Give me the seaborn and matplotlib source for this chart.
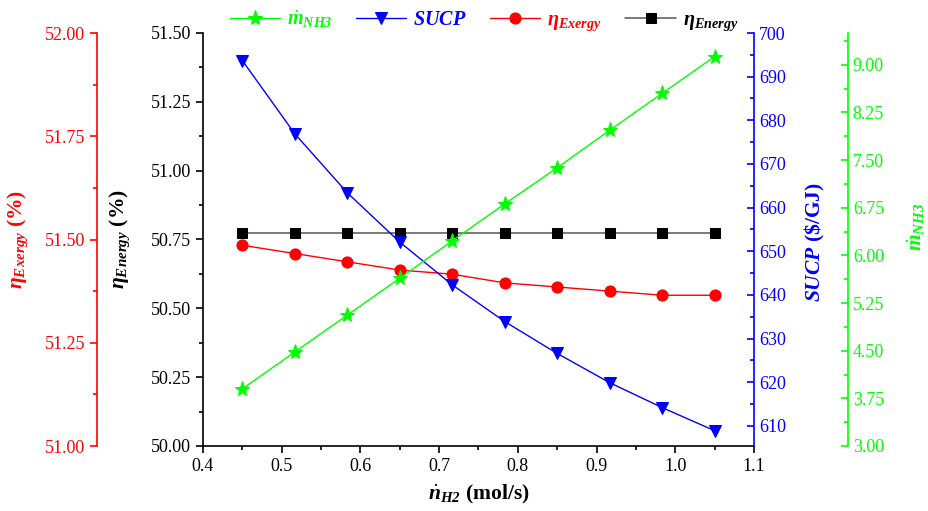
import numpy as np
import pandas as pd
import matplotlib
matplotlib.use("Agg")
import matplotlib.pyplot as plt
import seaborn as sns
from matplotlib.ticker import MultipleLocator, FormatStrFormatter

# ---------------- data ----------------
n_h2 = [0.45, 0.5167, 0.5833, 0.65, 0.7167, 0.7833, 0.85, 0.9167, 0.9833, 1.05]
m_nh3 = [3.90, 4.48, 5.06, 5.64, 6.23, 6.81, 7.38, 7.97, 8.55, 9.13]
sucp = [693.7, 676.9, 663.4, 652.1, 642.3, 633.9, 626.6, 619.9, 614.2, 608.9]
eta_exergy = [51.486, 51.466, 51.446, 51.426, 51.416, 51.395, 51.385, 51.375, 51.365, 51.365]
eta_energy = [50.775] * 10

df = pd.DataFrame({"n_H2": n_h2, "m_NH3": m_nh3, "SUCP": sucp,
                   "eta_exergy": eta_exergy, "eta_energy": eta_energy})

# ---------------- style ----------------
sns.set_theme(style="ticks")
plt.rcParams["font.family"] = ["Liberation Serif", "DejaVu Serif"]
plt.rcParams["mathtext.fontset"] = "custom"
plt.rcParams["mathtext.rm"] = "Liberation Serif"
plt.rcParams["mathtext.it"] = "Liberation Serif:italic"
plt.rcParams["mathtext.bf"] = "Liberation Serif:bold"
plt.rcParams["mathtext.bfit"] = "Liberation Serif:italic:bold"

GREEN = "#00FF00"
BLUE = "#0000FF"
RED = "#FF0000"
BLACK = "#000000"

TICK_FS = 13
LABEL_FS = 15.5
LEG_FS = 14.5

fig = plt.figure(figsize=(9.29, 5.11), dpi=100)
ax = fig.add_axes([203 / 929, 1 - 446 / 511, 551 / 929, 413 / 511])
ax_red = ax.twinx()
ax_blue = ax.twinx()
ax_green = ax.twinx()

# ---------------- lines ----------------
sns.lineplot(data=df, x="n_H2", y="eta_energy", ax=ax, color="#555555",
             marker="s", markersize=7, markerfacecolor=BLACK, markeredgecolor=BLACK,
             linewidth=1.1, label=r"$\mathbfit{\eta}_{\mathbfit{Energy}}$", legend=False)
sns.lineplot(data=df, x="n_H2", y="eta_exergy", ax=ax_red, color=RED,
             marker="o", markersize=8, markeredgecolor=RED,
             linewidth=1.0, label=r"$\mathbfit{\eta}_{\mathbfit{Exergy}}$", legend=False)
sns.lineplot(data=df, x="n_H2", y="SUCP", ax=ax_blue, color=BLUE,
             marker="v", markersize=9, markeredgecolor=BLUE,
             linewidth=1.0, label=r"$\mathbfit{SUCP}$", legend=False)
sns.lineplot(data=df, x="n_H2", y="m_NH3", ax=ax_green, color=GREEN,
             marker="*", markersize=11, markeredgecolor=GREEN,
             linewidth=1.0, label=r"$\dot{\mathbfit{m}}_{\mathbfit{NH3}}$", legend=False)

# ---------------- axes: main (eta energy, x) ----------------
ax.set_xlim(0.4, 1.1)
ax.set_ylim(50.0, 51.5)
ax.xaxis.set_major_locator(MultipleLocator(0.1))
ax.xaxis.set_minor_locator(MultipleLocator(0.05))
ax.xaxis.set_major_formatter(FormatStrFormatter("%.1f"))
ax.yaxis.set_major_locator(MultipleLocator(0.25))
ax.yaxis.set_minor_locator(MultipleLocator(0.125))
ax.yaxis.set_major_formatter(FormatStrFormatter("%.2f"))
for s in ["top", "right"]:
    ax.spines[s].set_visible(False)
for s in ["left", "bottom"]:
    ax.spines[s].set_color(BLACK)
    ax.spines[s].set_linewidth(1.2)
ax.tick_params(axis="both", which="major", direction="out", length=5, width=1.2,
               labelsize=TICK_FS, colors=BLACK, left=True, bottom=True)
ax.tick_params(axis="both", which="minor", direction="out", length=3, width=1.2,
               colors=BLACK, left=True, bottom=True)
ax.set_xlabel(r"$\dot{\mathbfit{n}}_{\mathbfit{H2}}$ (mol/s)", fontsize=LABEL_FS,
              fontweight="bold", color=BLACK)
ax.xaxis.set_label_coords(0.5, -0.09)
ax.set_ylabel(r"$\mathbfit{\eta}_{\mathbfit{Energy}}$ (%)", fontsize=LABEL_FS,
              fontweight="bold", color=BLACK)
ax.yaxis.set_label_coords(-0.151, 0.5)
ax.yaxis.label.set_verticalalignment("center")

# ---------------- red axis (eta exergy) on the far left ----------------
ax_red.set_ylim(51.0, 52.0)
ax_red.yaxis.set_ticks_position("left")
ax_red.yaxis.set_label_position("left")
ax_red.spines["left"].set_position(("axes", (97 - 203) / 551))
for s in ["top", "right", "bottom"]:
    ax_red.spines[s].set_visible(False)
ax_red.spines["left"].set_visible(True)
ax_red.spines["left"].set_color(RED)
ax_red.spines["left"].set_linewidth(1.2)
ax_red.yaxis.set_major_locator(MultipleLocator(0.25))
ax_red.yaxis.set_minor_locator(MultipleLocator(0.125))
ax_red.yaxis.set_major_formatter(FormatStrFormatter("%.2f"))
ax_red.tick_params(axis="y", which="major", direction="out", length=5, width=1.2,
                   labelsize=TICK_FS, colors=RED, left=True, right=False)
ax_red.tick_params(axis="y", which="minor", direction="out", length=3, width=1.2,
                   colors=RED, left=True, right=False)
ax_red.set_ylabel(r"$\mathbfit{\eta}_{\mathbfit{Exergy}}$ (%)", fontsize=LABEL_FS,
                  fontweight="bold", color=RED)
ax_red.yaxis.set_label_coords(-0.336, 0.5)
ax_red.yaxis.label.set_verticalalignment("center")

# ---------------- blue axis (SUCP) ----------------
ax_blue.set_ylim(605.4, 700)
for s in ["top", "left", "bottom"]:
    ax_blue.spines[s].set_visible(False)
ax_blue.spines["right"].set_color(BLUE)
ax_blue.spines["right"].set_linewidth(1.2)
ax_blue.yaxis.set_major_locator(MultipleLocator(10))
ax_blue.yaxis.set_minor_locator(MultipleLocator(5))
ax_blue.yaxis.set_major_formatter(FormatStrFormatter("%d"))
ax_blue.tick_params(axis="y", which="major", direction="in", length=5, width=1.2,
                    labelsize=TICK_FS, colors=BLUE, right=True, left=False)
ax_blue.tick_params(axis="y", which="minor", direction="in", length=3, width=1.2,
                    colors=BLUE, right=True, left=False)
ax_blue.set_ylabel(r"$\mathbfit{SUCP}$ (\$/GJ)", fontsize=LABEL_FS,
                   fontweight="bold", color=BLUE)
ax_blue.yaxis.set_label_coords(1.1107, 0.495)
ax_blue.yaxis.label.set_verticalalignment("center")

# ---------------- green axis (m NH3) ----------------
ax_green.set_ylim(3.0, 9.5)
ax_green.spines["right"].set_position(("axes", (848 - 203) / 551))
for s in ["top", "left", "bottom"]:
    ax_green.spines[s].set_visible(False)
ax_green.spines["right"].set_color(GREEN)
ax_green.spines["right"].set_linewidth(1.2)
ax_green.yaxis.set_major_locator(MultipleLocator(0.75))
ax_green.yaxis.set_minor_locator(MultipleLocator(0.375))
ax_green.yaxis.set_major_formatter(FormatStrFormatter("%.2f"))
ax_green.tick_params(axis="y", which="major", direction="in", length=5, width=1.2,
                     labelsize=TICK_FS, colors=GREEN, right=True, left=False)
ax_green.tick_params(axis="y", which="minor", direction="in", length=3, width=1.2,
                     colors=GREEN, right=True, left=False)
ax_green.set_ylabel(r"$\dot{\mathbfit{m}}_{\mathbfit{NH3}}$", fontsize=LABEL_FS,
                    fontweight="bold", color=GREEN)
ax_green.yaxis.set_label_coords(1.295, 0.53)
ax_green.yaxis.label.set_verticalalignment("center")

for a in [ax, ax_red, ax_blue, ax_green]:
    a.grid(False)

# ---------------- legend ----------------
handles = [ax_green.lines[0], ax_blue.lines[0], ax_red.lines[0], ax.lines[0]]
labels = [h.get_label() for h in handles]
leg = ax.legend(handles, labels, loc="center", bbox_to_anchor=(0.51, 1.029),
                ncol=4, frameon=False, fontsize=LEG_FS, handlelength=2.5,
                handletextpad=0.35, columnspacing=1.15, borderaxespad=0)
for t, c in zip(leg.get_texts(), [GREEN, BLUE, RED, BLACK]):
    t.set_color(c)
leg.set_zorder(10)

fig.savefig("out.png", dpi=100)
